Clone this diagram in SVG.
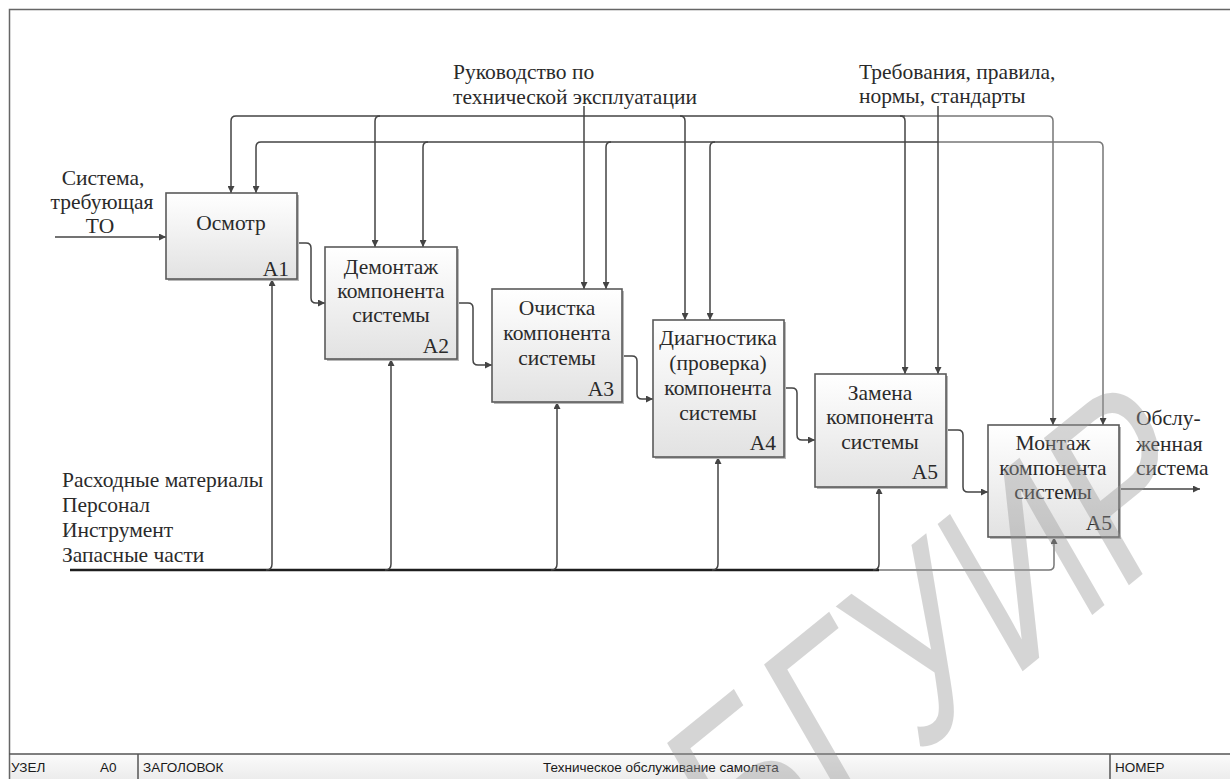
<svg xmlns="http://www.w3.org/2000/svg" width="1230" height="779" viewBox="0 0 1230 779">
<defs>
<linearGradient id="boxg" x1="0" y1="0" x2="0" y2="1">
<stop offset="0" stop-color="#ffffff"/>
<stop offset="1" stop-color="#e2e2e2"/>
</linearGradient>
<linearGradient id="footg" x1="0" y1="0" x2="0" y2="1">
<stop offset="0" stop-color="#fbfbfb"/>
<stop offset="1" stop-color="#ececec"/>
</linearGradient>
<marker id="ah" viewBox="0 0 10 10" refX="10" refY="5" markerWidth="8" markerHeight="7" markerUnits="userSpaceOnUse" orient="auto">
<path d="M0,0 L10,5 L0,10 z" fill="#444"/>
</marker>
</defs>
<style>
.box{fill:url(#boxg);stroke:#5a5a5a;stroke-width:1.6}
.shadow{fill:#b8b8b8}
.t{font-family:'Liberation Serif',serif;font-size:21.5px;fill:#2a2a2a}
.c{text-anchor:middle}
.r{text-anchor:end}
.ln{fill:none;stroke:#444;stroke-width:1.5}
.lt{fill:none;stroke:#777;stroke-width:1.5}
.arr{marker-end:url(#ah)}
.ft{font-family:'Liberation Sans',sans-serif;font-size:13.5px;fill:#1a1a1a}
</style>
<rect x="0" y="0" width="1230" height="779" fill="#ffffff"/>
<g id="frame">
<rect x="9" y="754" width="1221" height="25" fill="url(#footg)"/>
<path d="M9.5,779 V9.5 H1230" fill="none" stroke="#666" stroke-width="1.5"/>
<path d="M9,754 H1230 M138,754 V779 M1110,754 V779" fill="none" stroke="#555" stroke-width="1.5"/>
<text class="ft" x="11" y="772">УЗЕЛ</text>
<text class="ft" x="100" y="772">A0</text>
<text class="ft" x="143" y="772">ЗАГОЛОВОК</text>
<text class="ft" x="543" y="772">Техническое обслуживание самолета</text>
<text class="ft" x="1115" y="772">НОМЕР</text>
</g>
<g id="connectors">
<path class="ln arr" d="M55,237 H166"/>
<path class="ln arr" d="M1119,489 H1200"/>
<path class="ln arr" d="M297,243 H306 Q311,243 311,248 V298 Q311,303 316,303 H325"/>
<path class="ln arr" d="M457,303 H468 Q473,303 473,308 V360 Q473,365 478,365 H492"/>
<path class="ln arr" d="M622,356 H632 Q637,356 637,361 V394 Q637,399 642,399 H653"/>
<path class="ln arr" d="M784,388 H792 Q797,388 797,393 V435 Q797,440 802,440 H815"/>
<path class="ln arr" d="M946,430 H958 Q963,430 963,435 V487 Q963,492 968,492 H988"/>
<path class="ln arr" d="M905,116 H236 Q231,116 231,121 V193"/>
<path class="ln arr" d="M900,116 Q905,116 905,121 V374"/>
<path class="lt arr" d="M905,116 H1048 Q1053,116 1053,121 V425"/>
<path class="ln arr" d="M380,116 Q375,116 375,121 V247"/>
<path class="ln arr" d="M584,106 V289"/>
<path class="ln arr" d="M680,116 Q685,116 685,121 V320"/>
<path class="ln arr" d="M938,142 H261 Q256,142 256,147 V193"/>
<path class="lt arr" d="M938,142 H1098 Q1103,142 1103,147 V425"/>
<path class="ln arr" d="M428,142 Q423,142 423,147 V247"/>
<path class="ln arr" d="M611,142 Q606,142 606,147 V289"/>
<path class="ln arr" d="M715,142 Q710,142 710,147 V320"/>
<path class="ln arr" d="M938,106 V374"/>
<path d="M70,570 H879" fill="none" stroke="#1e1e1e" stroke-width="2.6"/>
<path class="lt arr" d="M879,570 H1049 Q1054,570 1054,565 V537"/>
<path class="ln arr" d="M266,570 Q272,570 272,564 V279"/>
<path class="ln arr" d="M385,570 Q391,570 391,564 V359"/>
<path class="ln arr" d="M551,570 Q557,570 557,564 V402"/>
<path class="ln arr" d="M712,570 Q718,570 718,564 V457"/>
<path class="ln arr" d="M873,570 Q879,570 879,564 V487"/>
</g>
<g id="labels" font-family="Liberation Serif, serif">
<text class="t c" x="103" y="185">Система,</text>
<text class="t c" x="102" y="209">требующая</text>
<text class="t c" x="100" y="233">ТО</text>
<text class="t" x="453" y="79">Руководство по</text>
<text class="t" x="453" y="104">технической эксплуатации</text>
<text class="t" x="859" y="79">Требования, правила,</text>
<text class="t" x="859" y="103">нормы, стандарты</text>
<text class="t" x="1136" y="425">Обслу-</text>
<text class="t" x="1136" y="451">женная</text>
<text class="t" x="1136" y="475">система</text>
<text class="t" x="62" y="487">Расходные материалы</text>
<text class="t" x="62" y="512">Персонал</text>
<text class="t" x="62" y="537">Инструмент</text>
<text class="t" x="62" y="562">Запасные части</text>
</g>
<g id="A1" font-family="Liberation Serif, serif">
<rect class="shadow" x="168" y="195" width="131" height="86"/>
<rect class="box" x="166" y="193" width="131" height="86"/>
<text class="t c" x="231" y="230">Осмотр</text>
<text class="t r" x="289" y="276">A1</text>
</g>
<g id="A2" font-family="Liberation Serif, serif">
<rect class="shadow" x="327" y="249" width="132" height="112"/>
<rect class="box" x="325" y="247" width="132" height="112"/>
<text class="t c" x="391" y="274">Демонтаж</text>
<text class="t c" x="391" y="298">компонента</text>
<text class="t c" x="391" y="322">системы</text>
<text class="t r" x="449" y="353">A2</text>
</g>
<g id="A3" font-family="Liberation Serif, serif">
<rect class="shadow" x="494" y="291" width="130" height="113"/>
<rect class="box" x="492" y="289" width="130" height="113"/>
<text class="t c" x="557" y="315">Очистка</text>
<text class="t c" x="557" y="340">компонента</text>
<text class="t c" x="557" y="365">системы</text>
<text class="t r" x="614" y="396">A3</text>
</g>
<g id="A4" font-family="Liberation Serif, serif">
<rect class="shadow" x="655" y="322" width="131" height="137"/>
<rect class="box" x="653" y="320" width="131" height="137"/>
<text class="t c" x="718" y="345">Диагностика</text>
<text class="t c" x="718" y="370">(проверка)</text>
<text class="t c" x="718" y="395">компонента</text>
<text class="t c" x="718" y="420">системы</text>
<text class="t r" x="776" y="450">A4</text>
</g>
<g id="A5" font-family="Liberation Serif, serif">
<rect class="shadow" x="817" y="376" width="131" height="113"/>
<rect class="box" x="815" y="374" width="131" height="113"/>
<text class="t c" x="880" y="400">Замена</text>
<text class="t c" x="880" y="424">компонента</text>
<text class="t c" x="880" y="449">системы</text>
<text class="t r" x="938" y="479">A5</text>
</g>
<g id="A6" font-family="Liberation Serif, serif">
<rect class="shadow" x="990" y="427" width="131" height="112"/>
<rect class="box" x="988" y="425" width="131" height="112"/>
<text class="t c" x="1053" y="450">Монтаж</text>
<text class="t c" x="1053" y="475">компонента</text>
<text class="t c" x="1053" y="499">системы</text>
<text class="t r" x="1112" y="530">A5</text>
</g>
<g id="watermark">
<text transform="matrix(0.777,-0.629,0.65,1.126,740,900)" font-family="Liberation Sans, sans-serif" font-size="190" fill="#999" opacity="0.4">БГУИР</text>
</g>
</svg>
